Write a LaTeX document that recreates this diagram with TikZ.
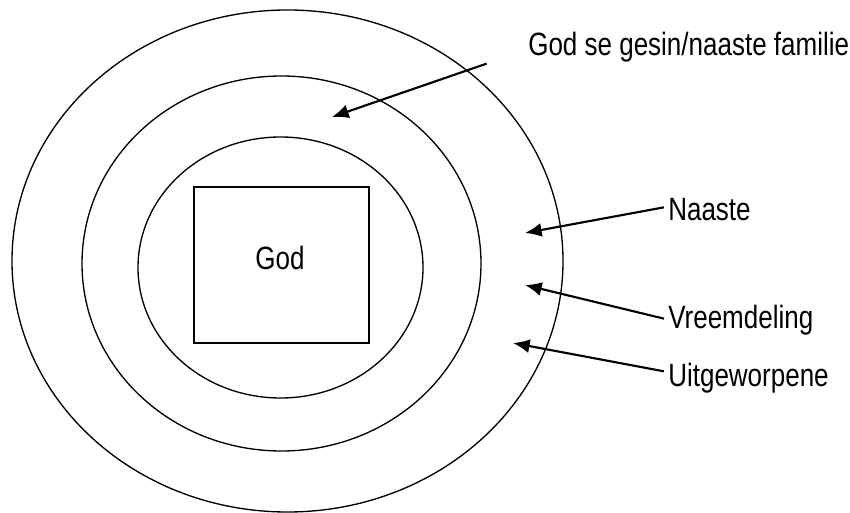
\documentclass[tikz,border=0pt]{standalone}
\usepackage{fontspec}
\usepackage{graphicx}
\setmainfont{Liberation Sans}
\usetikzlibrary{calc, positioning, arrows.meta}

\newcommand{\tall}[1]{\scalebox{1}[1.24]{#1}}

\begin{document}
\begin{tikzpicture}[
        x=0.75pt, y=-0.75pt,
        font=\fontsize{19.5}{23}\selectfont,
        >={Latex[length=12.5pt, width=10.5pt]},
        ring/.style={draw=black, line width=1pt},
        godbox/.style={
            draw=black,
            line width=1.1pt,
            minimum width=131pt,
            minimum height=117pt,
            inner sep=0pt
        },
        tag/.style={anchor=west, inner sep=3pt},
        arrow/.style={->, line width=1.6pt}
    ]

    \useasboundingbox (0,0) rectangle (850,513);

    % Rings
    \draw[ring] (287.5,261) ellipse [x radius=275.5, y radius=251];
    \draw[ring] (281.5,263.5) ellipse [x radius=199.5, y radius=187.5];
    \draw[ring] (280.5,267.5) ellipse [x radius=142.5, y radius=130.5];

    % Centre
    \node[godbox] (box) at (281.5,265) {};
    \node (god) at (280,258) {\tall{God}};

    % Labels
    \node[tag] (familie) at (524,47) {\tall{God se gesin/naaste familie}};
    \node[tag] (naaste) at (664,210) {\tall{Naaste}};
    \node[tag] (vreemd) at (664,320) {\tall{Vreemdeling}};
    \node[tag] (uitgew) at (664,378) {\tall{Uitgeworpene}};

    % Arrow tips
    \coordinate (famtip) at (332,117);
    \coordinate (naatip) at (525,233);
    \coordinate (vretip) at (525,285);
    \coordinate (uittip) at (513,343);

    % Arrows
    \draw[arrow] ([xshift=-28pt, yshift=2pt]familie.south west) -- (famtip);
    \draw[arrow] ([yshift=2pt]naaste.west) -- (naatip);
    \draw[arrow] ([yshift=1pt]vreemd.west) -- (vretip);
    \draw[arrow] ([yshift=5pt]uitgew.west) -- (uittip);

\end{tikzpicture}
\end{document}
